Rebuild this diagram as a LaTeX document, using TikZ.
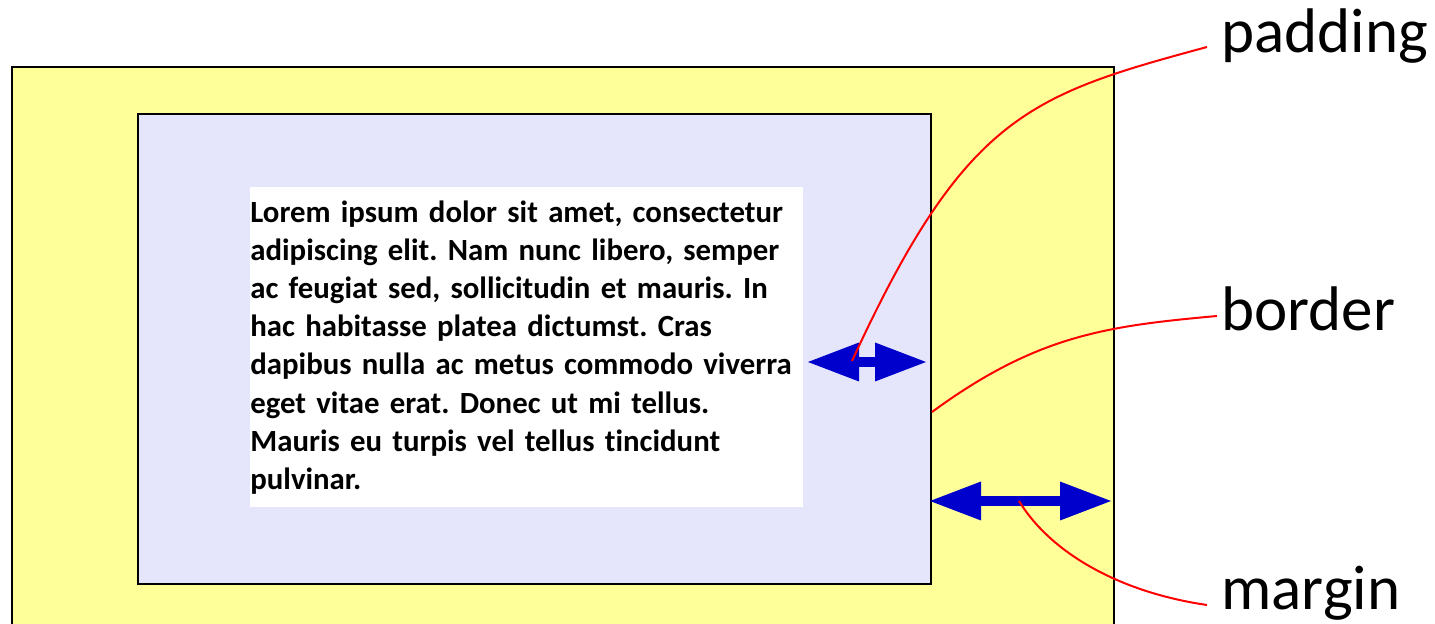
\documentclass[tikz,border=0pt]{standalone}
\usepackage{fontspec}
\setmainfont{Carlito}[Ligatures=NoCommon]
\usetikzlibrary{arrows.meta}
\definecolor{marginyellow}{HTML}{FFFF99}
\definecolor{paddinglavender}{HTML}{E5E5FB}
\definecolor{arrowblue}{HTML}{0000CC}
\newcommand{\bodyfont}{\bfseries\fontsize{15.4}{19.1}\selectfont\frenchspacing\hyphenpenalty=10000\relax}

\begin{document}
\begin{tikzpicture}[
    x=0.5pt, y=-0.5pt,
    boxline/.style={draw=black, line width=1pt, inner sep=0pt, anchor=north west},
    textbox/.style={fill=white, inner sep=0pt, anchor=north west, text width=276.5pt, minimum height=160pt, align=left, font=\bodyfont},
    blockarrow/.style={draw=arrowblue, line width=5pt, arrows={Triangle[length=25.5pt,width=19.5pt,line width=0pt]-Triangle[length=25.5pt,width=19.5pt,line width=0pt]}},
    leader/.style={draw=red, line width=1pt},
    partlabel/.style={anchor=base west, inner sep=0pt, font=\fontsize{31.5}{37}\selectfont}
]
    \useasboundingbox (0,0) rectangle (1435,624);
    \clip (0,0) rectangle (1435,624);

    \node[boxline, fill=marginyellow, minimum width=551pt, minimum height=317pt] (marginbox) at (11,66) {};
    \node[boxline, fill=paddinglavender, minimum width=396.5pt, minimum height=235pt] (paddingbox) at (137,113) {};
    \node[textbox] (content) at (250,187) {Lorem ipsum dolor sit amet, consectetur\\
        adipiscing elit. Nam nunc libero, semper\\
        ac feugiat sed, sollicitudin et mauris. In\\
        hac habitasse platea dictumst. Cras\\
        dapibus nulla ac metus commodo viverra\\
        eget vitae erat. Donec ut mi tellus.\\
        Mauris eu turpis vel tellus tincidunt\\
        pulvinar.};

    \coordinate (padleft) at (808,362);
    \coordinate (padright) at (926,362);
    \coordinate (marleft) at (930,501);
    \coordinate (marright) at (1111,501);
    \draw[blockarrow] (padleft) -- (padright);
    \draw[blockarrow] (marleft) -- (marright);

    \node[partlabel] (paddinglbl) at (1221,53) {padding};
    \node[partlabel] (borderlbl) at (1221,331) {border};
    \node[partlabel] (marginlbl) at (1221,610) {margin};

    \coordinate (padfoot) at (852,361);
    \coordinate (padtip) at (1207,47);
    \coordinate (borderfoot) at (932,412);
    \coordinate (bordertip) at (1217,316);
    \coordinate (marfoot) at (1019,501);
    \coordinate (martip) at (1207,605);
    \draw[leader] (padfoot) .. controls (965,115) and (1030,95) .. (padtip);
    \draw[leader] (borderfoot) .. controls (1037,335) and (1107,326) .. (bordertip);
    \draw[leader] (marfoot) .. controls (1050,552) and (1118,592) .. (martip);
\end{tikzpicture}
\end{document}
